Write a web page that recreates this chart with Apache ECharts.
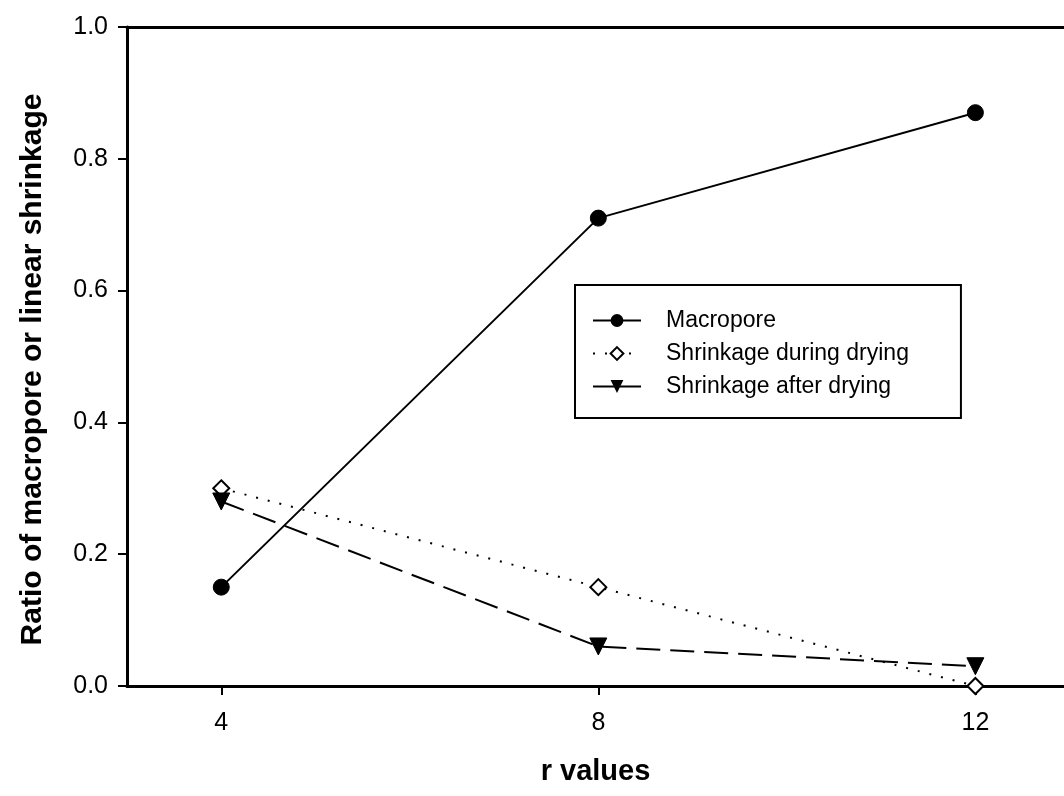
<!DOCTYPE html>
<html>
<head>
<meta charset="utf-8">
<script src="https://cdn.jsdelivr.net/npm/echarts@6/dist/echarts.min.js"></script>
<style>
  html, body { margin: 0; padding: 0; background: #fff; }
  #chart { width: 1064px; height: 796px; }
</style>
</head>
<body>
<div id="chart"></div>
<script>
// r values on the horizontal axis
const rValues = [4, 8, 12];
// measured ratios for each r value
const macropore = [0.15, 0.71, 0.87];
const shrinkDuring = [0.30, 0.15, 0.00];
const shrinkAfter = [0.28, 0.06, 0.03];
const yTicks = [0, 0.2, 0.4, 0.6, 0.8, 1.0];

const FONT = '"Liberation Sans", Arial, sans-serif';
const pairs = vals => rValues.map((r, i) => [r, vals[i]]);

const chart = echarts.init(document.getElementById('chart'), null, { renderer: 'canvas' });

const X_MIN = 3, X_MAX = 12.94;

chart.setOption({
  animation: false,
  backgroundColor: '#fff',
  grid: { left: 127, top: 27, right: 0, bottom: 110 },
  xAxis: [
    {
      type: 'value', min: X_MIN, max: X_MAX,
      name: 'r values', nameLocation: 'middle', nameGap: 71,
      nameTextStyle: { fontFamily: FONT, fontSize: 29, fontWeight: 'bold', color: '#000' },
      axisLine: { show: true, onZero: false, lineStyle: { color: '#000', width: 3 } },
      axisTick: { show: true, length: 9, lineStyle: { color: '#000', width: 2 }, customValues: rValues },
      axisLabel: { customValues: rValues, margin: 25, fontFamily: FONT, fontSize: 25, color: '#000' },
      splitLine: { show: false }
    },
    {
      // top frame line
      type: 'value', position: 'top', min: X_MIN, max: X_MAX,
      axisLine: { show: true, onZero: false, lineStyle: { color: '#000', width: 3 } },
      axisTick: { show: false }, axisLabel: { show: false }, splitLine: { show: false }
    }
  ],
  yAxis: {
    type: 'value', min: 0, max: 1, interval: 0.2,
    name: 'Ratio of macropore or linear shrinkage', nameLocation: 'middle', nameGap: 79,
    nameTextStyle: {
      fontFamily: FONT, fontSize: 30, fontWeight: 'bold', color: '#000',
      padding: [0, 26, 0, 0]
    },
    axisLine: { show: true, lineStyle: { color: '#000', width: 3 } },
    axisTick: { show: true, length: 9, lineStyle: { color: '#000', width: 2 }, customValues: yTicks },
    axisLabel: {
      customValues: yTicks, margin: 19, fontFamily: FONT, fontSize: 25, color: '#000',
      formatter: v => v.toFixed(1)
    },
    splitLine: { show: false }
  },
  legend: {
    orient: 'vertical', left: 575, top: 285,
    padding: [24, 52, 20, 17], itemGap: 10, itemWidth: 48, itemHeight: 16,
    borderColor: '#000', borderWidth: 2, backgroundColor: '#fff',
    textStyle: { fontFamily: FONT, fontSize: 23, color: '#000', padding: [0, 0, 0, 20] },
    data: [
      { name: 'Macropore' },
      { name: 'Shrinkage during drying' },
      { name: 'Shrinkage after drying', lineStyle: { type: 'solid' } }
    ]
  },
  series: [
    {
      name: 'Macropore', type: 'line', data: pairs(macropore),
      symbol: 'circle', symbolSize: 16,
      lineStyle: { color: '#000', width: 2, type: 'solid' },
      itemStyle: { color: '#000', borderColor: '#000' }
    },
    {
      name: 'Shrinkage during drying', type: 'line', data: pairs(shrinkDuring),
      symbol: 'diamond', symbolSize: 16,
      lineStyle: { color: '#000', width: 2, type: [2, 10] },
      itemStyle: { color: '#fff', borderColor: '#000', borderWidth: 2 }
    },
    {
      name: 'Shrinkage after drying', type: 'line', data: pairs(shrinkAfter),
      symbol: 'triangle', symbolRotate: 180, symbolSize: 17,
      lineStyle: { color: '#000', width: 2, type: [24, 10] },
      itemStyle: { color: '#000', borderColor: '#000' }
    }
  ]
});
</script>
</body>
</html>
